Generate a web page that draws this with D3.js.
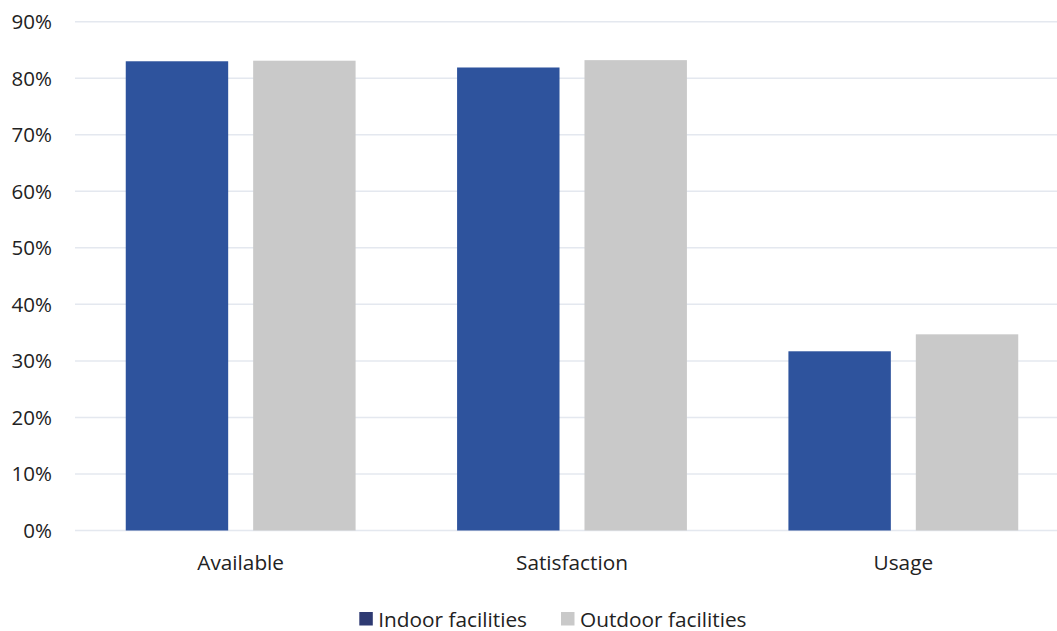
<!DOCTYPE html>
<html><head><meta charset="utf-8">
<script src="https://cdn.jsdelivr.net/npm/d3@7/dist/d3.min.js"></script>
<style>body{margin:0;background:#fff;}svg{display:block;}text{font-family:"Open Sans",sans-serif;fill:#222;}</style>
</head><body>
<svg id="c" width="1057" height="631"></svg>
<script>
const categories = ["Available", "Satisfaction", "Usage"];
const seriesNames = ["Indoor facilities", "Outdoor facilities"];
const indoor = [83.0, 81.9, 31.7];
const outdoor = [83.1, 83.2, 34.7];
const yTicks = [0, 10, 20, 30, 40, 50, 60, 70, 80, 90];

const colors = {"Indoor facilities": "#2E539D", "Outdoor facilities": "#C9C9C9"};
const legendColors = {"Indoor facilities": "#2E3A72", "Outdoor facilities": "#C9C9C9"};

const svg = d3.select("#c");
const plotLeft = 75, plotRight = 1069, plotTop = 21.7, plotBottom = 530.5;

const y = d3.scaleLinear().domain([0, 90]).range([plotBottom, plotTop]);
const x0 = d3.scaleBand().domain(categories).range([plotLeft, plotRight]).padding(0);
const x1 = d3.scaleBand().domain(seriesNames).range([50.75, x0.bandwidth() - 50.75]).paddingInner(0.196).paddingOuter(0);

// gridlines
svg.append("g").selectAll("line").data(yTicks).join("line")
  .attr("x1", plotLeft).attr("x2", 1057)
  .attr("y1", d => y(d)).attr("y2", d => y(d))
  .attr("stroke", "#E4E8EF").attr("stroke-width", 1.5);

// y labels
svg.append("g").selectAll("text").data(yTicks).join("text")
  .attr("x", 52).attr("y", d => y(d) + 7.5)
  .attr("text-anchor", "end").attr("font-size", 20.5)
  .text(d => d + "%");

const data = categories.map((c, i) => ({cat: c, vals: [
  {s: seriesNames[0], v: indoor[i]}, {s: seriesNames[1], v: outdoor[i]}]}));

const groups = svg.append("g").selectAll("g").data(data).join("g")
  .attr("transform", d => `translate(${x0(d.cat)},0)`);
groups.selectAll("rect").data(d => d.vals).join("rect")
  .attr("x", d => x1(d.s)).attr("width", x1.bandwidth())
  .attr("y", d => y(d.v)).attr("height", d => y(0) - y(d.v))
  .attr("fill", d => colors[d.s]);

// category labels
svg.append("g").selectAll("text").data(categories).join("text")
  .attr("x", d => x0(d) + x0.bandwidth() / 2).attr("y", 570)
  .attr("text-anchor", "middle").attr("font-size", 20.8)
  .text(d => d);

// legend
const legendX = [359.3, 561];
const lg = svg.append("g").selectAll("g").data(seriesNames).join("g")
  .attr("transform", (d, i) => `translate(${legendX[i]},612)`);
lg.append("rect").attr("width", 13.5).attr("height", 13.5).attr("fill", d => legendColors[d]);
lg.append("text").attr("x", 19).attr("y", 14.5).attr("font-size", 20.8).text(d => d);
</script>
</body></html>
